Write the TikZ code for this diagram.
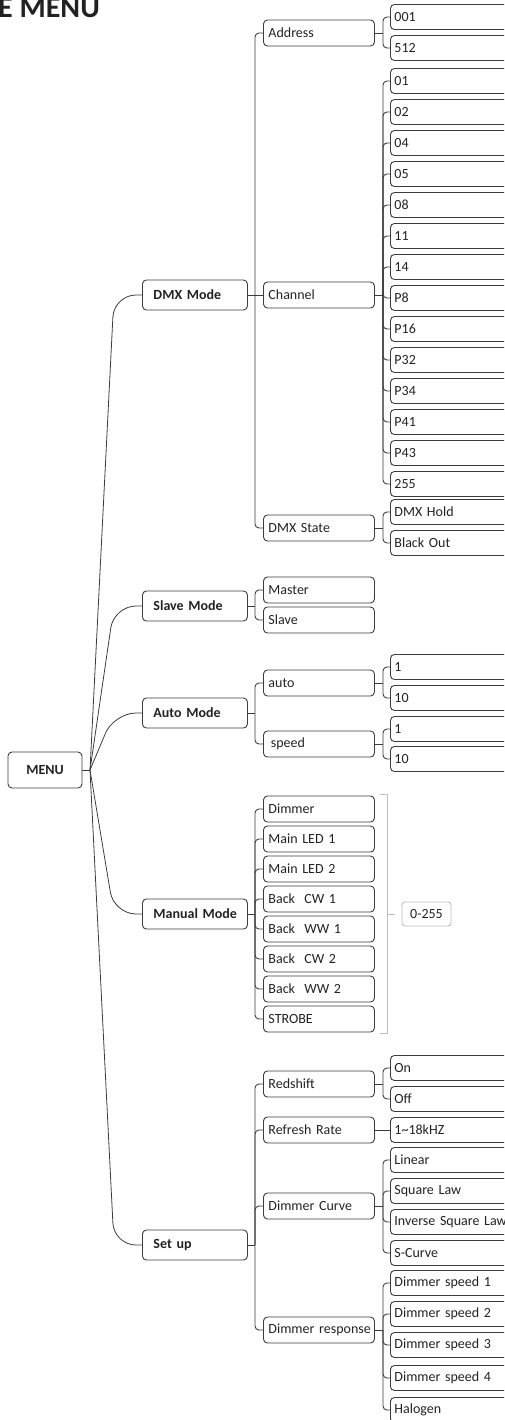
\documentclass[tikz,border=0pt]{standalone}
\usepackage{fontspec}
\setmainfont{Carlito}
\definecolor{linec}{RGB}{60,60,60}
\definecolor{txt}{RGB}{34,34,34}
\definecolor{brk}{RGB}{190,190,190}

\begin{document}
\begin{tikzpicture}[x=1pt, y=-1pt]
\tikzset{ every node/.style={text=txt, font=\fontsize{14}{16}\selectfont},
  nowrap/.style={execute at begin node={\hbox\bgroup}, execute at end node={\egroup}},
  root/.style={draw=linec, line width=0.9pt, rounded corners=4pt, minimum width=74pt, minimum height=36pt, inner sep=0pt, font=\bfseries\fontsize{14}{16}\selectfont},
  lvla/.style={draw=linec, line width=0.9pt, rounded corners=4pt, anchor=west, minimum height=30pt, text width=83pt, inner xsep=11pt, inner ysep=0pt, align=left, nowrap, font=\bfseries\fontsize{14}{16}\selectfont},
  lvlb/.style={draw=linec, line width=0.9pt, rounded corners=4pt, anchor=west, minimum height=26pt, text width=101pt, inner xsep=5pt, inner ysep=0pt, align=left, nowrap},
  lvlc/.style={draw=linec, line width=0.9pt, rounded corners=4pt, anchor=west, minimum height=25pt, text width=122pt, inner xsep=4pt, inner ysep=0pt, align=left, nowrap},
  rangebox/.style={draw=brk, line width=0.9pt, rounded corners=3pt, minimum width=49pt, minimum height=24pt, inner sep=0pt},
  link/.style={draw=linec, line width=0.9pt, rounded corners=4pt},
  fan/.style={draw=linec, line width=0.8pt, rounded corners=22pt},
}
\useasboundingbox (0,0) rectangle (504,1420);
\clip (0,0) rectangle (504,1420);
%\draw [lightgray, dashed](0,0) grid[step=50pt] (504,1420);

\node [anchor=base west, inner sep=0pt, font=\bfseries\fontsize{30}{30}\selectfont] (title) at (-2,18) {E MENU};

\node [root] (menu) at (45,770) {MENU};

\node [lvla] (dmx)      at (142,295)  {DMX Mode};
\node [lvla] (slave)    at (142,606)  {Slave Mode};
\node [lvla] (automode) at (142,713)  {Auto Mode};
\node [lvla] (manual)   at (142,914)  {Manual Mode};
\node [lvla] (setup)    at (142,1245) {Set up};

\node [lvlb] (address)  at (263,33)   {Address};
\node [lvlb] (channel)  at (263,295)  {Channel};
\node [lvlb] (dmxstate) at (263,528)  {DMX State};
\node [lvlb] (master)   at (263,590)  {Master};
\node [lvlb] (slv)      at (263,620)  {Slave};
\node [lvlb] (auto)     at (263,683)  {auto};
\node [lvlb] (speed)    at (263,744)  {\,speed};
\node [lvlb] (dimmer)   at (263,809)  {Dimmer};
\node [lvlb] (leda)     at (263,839)  {Main LED 1};
\node [lvlb] (ledb)     at (263,869)  {Main LED 2};
\node [lvlb] (cwa)      at (263,899)  {Back\ \ CW 1};
\node [lvlb] (wwa)      at (263,929)  {Back\ \ WW 1};
\node [lvlb] (cwb)      at (263,959)  {Back\ \ CW 2};
\node [lvlb] (wwb)      at (263,989)  {Back\ \ WW 2};
\node [lvlb] (strobe)   at (263,1019) {STROBE};
\node [lvlb] (redshift) at (263,1084) {Redshift};
\node [lvlb] (refresh)  at (263,1130) {Refresh Rate};
\node [lvlb] (dcurve)   at (263,1206) {Dimmer Curve};
\node [lvlb] (dresp)    at (263,1330) {Dimmer response};

\node [lvlc] (adra) at (390,17) {001};
\node [lvlc] (adrb) at (390,48) {512};

\node [lvlc] (cha) at (390,81)  {01};
\node [lvlc] (chb) at (390,112) {02};
\node [lvlc] (chc) at (390,143) {04};
\node [lvlc] (chd) at (390,174) {05};
\node [lvlc] (che) at (390,205) {08};
\node [lvlc] (chf) at (390,236) {11};
\node [lvlc] (chg) at (390,267) {14};
\node [lvlc] (chh) at (390,298) {P8};
\node [lvlc] (chi) at (390,329) {P16};
\node [lvlc] (chj) at (390,360) {P32};
\node [lvlc] (chk) at (390,391) {P34};
\node [lvlc] (chl) at (390,422) {P41};
\node [lvlc] (chm) at (390,453) {P43};
\node [lvlc] (chn) at (390,484) {255};

\node [lvlc] (hold)     at (390,512) {DMX Hold};
\node [lvlc] (blackout) at (390,543) {Black Out};

\node [lvlc] (aua) at (390,667) {1};
\node [lvlc] (aub) at (390,698) {10};
\node [lvlc] (spa) at (390,729) {1};
\node [lvlc] (spb) at (390,759) {10};

\node [lvlc] (on)      at (390,1068) {On};
\node [lvlc] (off)     at (390,1099) {Off};
\node [lvlc] (khz)     at (390,1130) {1\textasciitilde 18kHZ};
\node [lvlc] (linear)  at (390,1160) {Linear};
\node [lvlc] (square)  at (390,1191) {Square Law};
\node [lvlc] (inverse) at (390,1222) {Inverse Square Law};
\node [lvlc] (scurve)  at (390,1253) {S-Curve};
\node [lvlc] (dsa)     at (390,1283) {Dimmer speed 1};
\node [lvlc] (dsb)     at (390,1314) {Dimmer speed 2};
\node [lvlc] (dsc)     at (390,1345) {Dimmer speed 3};
\node [lvlc] (dsd)     at (390,1378) {Dimmer speed 4};
\node [lvlc] (halogen) at (390,1410) {Halogen};

\node [rangebox] (rng) at (426.5,914) {0-255};

% hubs
\coordinate (hM)  at (90,770);
\coordinate (hD)  at (255,295);
\coordinate (hS)  at (255,606);
\coordinate (hA)  at (255,713);
\coordinate (hMa) at (255,914);
\coordinate (hSu) at (255,1245);
\coordinate (hAd) at (383,33);
\coordinate (hCh) at (383,295);
\coordinate (hDs) at (383,528);
\coordinate (hAu) at (383,683);
\coordinate (hSp) at (383,744);
\coordinate (hRs) at (383,1084);
\coordinate (hDc) at (383,1206);
\coordinate (hDr) at (383,1330);

\draw [link] (menu.east) -- (hM);
\draw [fan] (hM) -- ([xshift=-28pt]dmx.west) -- (dmx.west);
\draw [fan] (hM) -- ([xshift=-28pt]slave.west) -- (slave.west);
\draw [fan] (hM) -- ([xshift=-28pt]automode.west) -- (automode.west);
\draw [fan] (hM) -- ([xshift=-28pt]manual.west) -- (manual.west);
\draw [fan] (hM) -- ([xshift=-28pt]setup.west) -- (setup.west);

\draw [link] (dmx.east) -- (hD);
\draw [link] (hD) |- (address.west);
\draw [link] (hD) -- (channel.west);
\draw [link] (hD) |- (dmxstate.west);

\draw [link] (slave.east) -- (hS);
\draw [link] (hS) |- (master.west);
\draw [link] (hS) |- (slv.west);

\draw [link] (automode.east) -- (hA);
\draw [link] (hA) |- (auto.west);
\draw [link] (hA) |- (speed.west);

\draw [link] (manual.east) -- (hMa);
\draw [link] (hMa) |- (dimmer.west);
\draw [link] (hMa) |- (leda.west);
\draw [link] (hMa) |- (ledb.west);
\draw [link] (hMa) |- (cwa.west);
\draw [link] (hMa) |- (wwa.west);
\draw [link] (hMa) |- (cwb.west);
\draw [link] (hMa) |- (wwb.west);
\draw [link] (hMa) |- (strobe.west);

\draw [link] (setup.east) -- (hSu);
\draw [link] (hSu) |- (redshift.west);
\draw [link] (hSu) |- (refresh.west);
\draw [link] (hSu) |- (dcurve.west);
\draw [link] (hSu) |- (dresp.west);

\draw [link] (address.east) -- (hAd);
\draw [link] (hAd) |- (adra.west);
\draw [link] (hAd) |- (adrb.west);

\draw [link] (channel.east) -- (hCh);
\draw [link] (hCh) |- (cha.west);
\draw [link] (hCh) |- (chb.west);
\draw [link] (hCh) |- (chc.west);
\draw [link] (hCh) |- (chd.west);
\draw [link] (hCh) |- (che.west);
\draw [link] (hCh) |- (chf.west);
\draw [link] (hCh) |- (chg.west);
\draw [link] (hCh) |- (chh.west);
\draw [link] (hCh) |- (chi.west);
\draw [link] (hCh) |- (chj.west);
\draw [link] (hCh) |- (chk.west);
\draw [link] (hCh) |- (chl.west);
\draw [link] (hCh) |- (chm.west);
\draw [link] (hCh) |- (chn.west);

\draw [link] (dmxstate.east) -- (hDs);
\draw [link] (hDs) |- (hold.west);
\draw [link] (hDs) |- (blackout.west);

\draw [link] (auto.east) -- (hAu);
\draw [link] (hAu) |- (aua.west);
\draw [link] (hAu) |- (aub.west);

\draw [link] (speed.east) -- (hSp);
\draw [link] (hSp) |- (spa.west);
\draw [link] (hSp) |- (spb.west);

\draw [link] (redshift.east) -- (hRs);
\draw [link] (hRs) |- (on.west);
\draw [link] (hRs) |- (off.west);

\draw [link] (refresh.east) -- (khz.west);

\draw [link] (dcurve.east) -- (hDc);
\draw [link] (hDc) |- (linear.west);
\draw [link] (hDc) |- (square.west);
\draw [link] (hDc) |- (inverse.west);
\draw [link] (hDc) |- (scurve.west);

\draw [link] (dresp.east) -- (hDr);
\draw [link] (hDr) |- (dsa.west);
\draw [link] (hDr) |- (dsb.west);
\draw [link] (hDr) |- (dsc.west);
\draw [link] (hDr) |- (dsd.west);
\draw [link] (hDr) |- (halogen.west);

% bracket for the manual channels
\coordinate (bt) at (387,794);
\coordinate (bb) at (387,1033);
\coordinate (bm) at (387,914);
\draw [brk, line width=0.9pt] ([xshift=-7pt]bt) -- (bt) -- (bb) -- ([xshift=-7pt]bb);
\draw [brk, line width=0.9pt] (bm) -- ([xshift=-7pt]rng.west);

\end{tikzpicture}
\end{document}
